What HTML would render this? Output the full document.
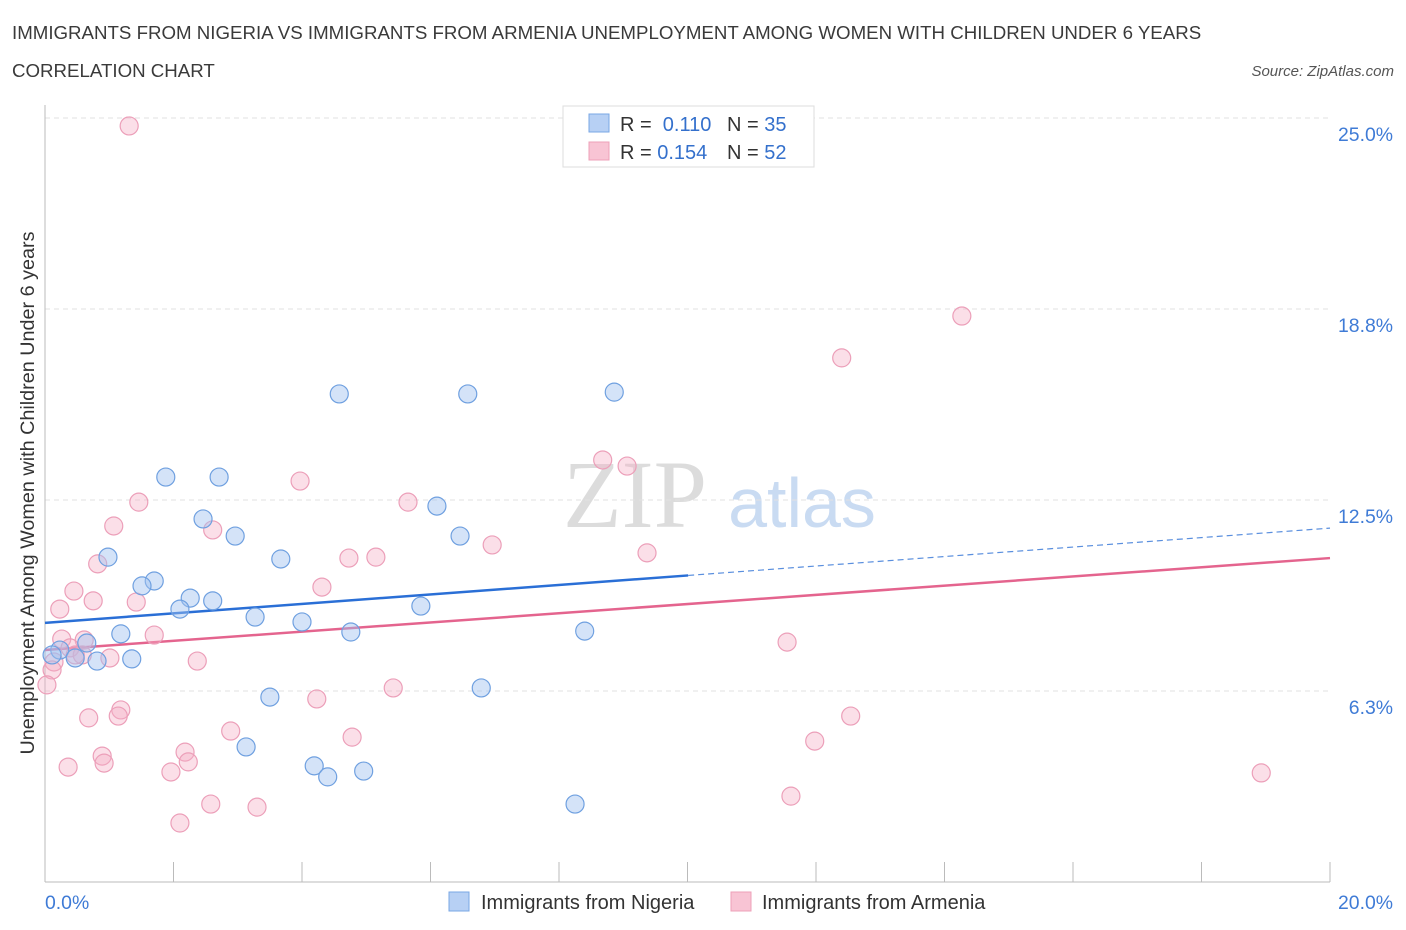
<!DOCTYPE html>
<html><head><meta charset="utf-8"><style>
body{margin:0;background:#fff;font-family:"Liberation Sans",sans-serif}
#c{position:absolute;left:0;top:0}
</style></head><body>
<svg id="c" width="1406" height="930" xmlns="http://www.w3.org/2000/svg">
<text x="12" y="39" font-size="18.7" fill="#3a3a3a">IMMIGRANTS FROM NIGERIA VS IMMIGRANTS FROM ARMENIA UNEMPLOYMENT AMONG WOMEN WITH CHILDREN UNDER 6 YEARS</text>
<text x="12" y="77" font-size="18.7" fill="#3a3a3a">CORRELATION CHART</text>
<text x="1394" y="76" font-size="15" fill="#555" font-style="italic" text-anchor="end">Source: ZipAtlas.com</text>
<text x="635" y="527" font-size="96" fill="#dcdcdc" text-anchor="middle" font-family="Liberation Serif,serif">ZIP</text>
<text x="802" y="527" font-size="70" fill="#c9dbf2" text-anchor="middle">atlas</text>
<g id="grid"></g>
<g id="axes"></g>
<g id="lines"></g>
<g id="pts"></g>
<text transform="translate(34,493) rotate(-90)" font-size="19.8" fill="#333" text-anchor="middle">Unemployment Among Women with Children Under 6 years</text>
<g>
<rect x="563" y="106" width="251" height="61" fill="#fff" stroke="#ddd"/>
<rect x="589" y="114" width="20" height="18" fill="#b7d0f4" stroke="#7aa7e4"/>
<rect x="589" y="142" width="20" height="18" fill="#f8c4d4" stroke="#eea0b8"/>
<text x="620" y="131" font-size="20" fill="#333">R = <tspan fill="#3470cc">&#160;0.110</tspan><tspan x="727">N = </tspan><tspan fill="#3470cc">35</tspan></text>
<text x="620" y="159" font-size="20" fill="#333">R = <tspan fill="#3470cc">0.154</tspan><tspan x="727">N = </tspan><tspan fill="#3470cc">52</tspan></text>
</g>
<g>
<rect x="449" y="892" width="20" height="19" fill="#b7d0f4" stroke="#7aa7e4"/>
<text x="481" y="909" font-size="20" fill="#333">Immigrants from Nigeria</text>
<rect x="731" y="892" width="20" height="19" fill="#f8c4d4" stroke="#eea0b8"/>
<text x="762" y="909" font-size="20" fill="#333">Immigrants from Armenia</text>
</g>
</svg>
<script>
const yTicks=[6.25,12.5,18.75,25];
const yTickLabels=["6.3%","12.5%","18.8%","25.0%"];
const xTickLabels=["0.0%","20.0%"];
const nigX=[4.58,6.58,8.86,1.88,2.71,6.10,2.46,2.96,6.46,0.98,3.67,1.70,1.51,2.26,2.61,2.10,5.85,3.27,4.00,4.76,8.40,1.18,0.65,0.23,0.11,0.47,1.35,0.81,3.50,6.79,3.13,4.19,4.40,4.96,8.25];
const nigY=[15.97,15.97,16.03,13.25,13.25,12.30,11.88,11.32,11.32,10.63,10.57,9.85,9.69,9.29,9.20,8.93,9.03,8.67,8.51,8.18,8.21,8.12,7.82,7.59,7.43,7.33,7.30,7.23,6.05,6.35,4.42,3.80,3.44,3.63,2.55];
const armX=[1.31,14.27,12.40,8.68,9.06,3.97,1.46,5.65,1.07,2.61,6.96,4.73,5.15,9.37,0.82,4.31,0.45,0.75,1.42,0.23,1.70,11.55,0.26,0.61,0.39,1.01,2.37,0.14,0.11,0.03,5.42,4.23,0.68,1.18,1.14,12.54,2.89,4.78,11.98,0.89,2.18,0.92,0.36,2.23,1.96,18.93,11.61,2.58,3.30,2.10,0.58,0.47];
const armY=[24.74,18.52,17.15,13.81,13.61,13.12,12.43,12.43,11.65,11.52,11.03,10.60,10.63,10.77,10.41,9.65,9.52,9.20,9.16,8.93,8.08,7.85,7.95,7.92,7.66,7.33,7.23,7.20,6.94,6.45,6.35,5.99,5.37,5.63,5.43,5.43,4.94,4.74,4.61,4.12,4.25,3.89,3.76,3.93,3.60,3.57,2.81,2.55,2.45,1.93,7.43,7.43];
const nigTrend=[8.48,11.58];
const armTrend=[7.59,10.60];
const nigSolidEnd=10.01;
const NS="http://www.w3.org/2000/svg";
const X=v=>45+v/20*1285, Y=v=>882-v/25*764;
function mk(t,a,p){const e=document.createElementNS(NS,t);for(const k in a)e.setAttribute(k,a[k]);document.getElementById(p).appendChild(e);return e;}
yTicks.forEach((t,i)=>{
 const g=mk('line',{x1:45,x2:1330,y1:Y(t),y2:Y(t),stroke:'#e2e2e2','stroke-dasharray':'5,4'},'grid');
 
 
 const l=mk('text',{x:1393,y:Y(t)+23,'font-size':19.4,fill:'#3f7bd6','text-anchor':'end'},'axes');l.textContent=yTickLabels[i];
 
 
});
mk('line',{x1:45,x2:45,y1:105,y2:882,stroke:'#bbb'},'axes');
mk('line',{x1:45,x2:1330,y1:882,y2:882,stroke:'#bbb'},'axes');
for(let i=0;i<=10;i++){const t=mk('line',{x1:X(i*2),x2:X(i*2),y1:862,y2:882,stroke:'#bbb'},'axes');
 
 }
const xl0=mk('text',{x:45,y:909,'font-size':19.4,fill:'#3f7bd6'},'axes');xl0.textContent=xTickLabels[0];


const xl1=mk('text',{x:1393,y:909,'font-size':19.4,fill:'#3f7bd6','text-anchor':'end'},'axes');xl1.textContent=xTickLabels[1];


armX.forEach((x,i)=>{const c=mk('circle',{cx:X(x),cy:Y(armY[i]),r:9,fill:'rgba(246,176,198,0.4)',stroke:'#ec9fb9','stroke-width':1.2},'pts');
 
 });
nigX.forEach((x,i)=>{const c=mk('circle',{cx:X(x),cy:Y(nigY[i]),r:9,fill:'rgba(160,194,240,0.45)',stroke:'#6fa0e0','stroke-width':1.2},'pts');
 
 });
const ty=(tr,x)=>tr[0]+(tr[1]-tr[0])*x/20;
const l1=mk('line',{x1:X(0),y1:Y(nigTrend[0]),x2:X(nigSolidEnd),y2:Y(ty(nigTrend,nigSolidEnd)),stroke:'#2a6fd6','stroke-width':2.5},'lines');


const l2=mk('line',{x1:X(nigSolidEnd),y1:Y(ty(nigTrend,nigSolidEnd)),x2:X(20),y2:Y(nigTrend[1]),stroke:'#5a8fde','stroke-width':1.2,'stroke-dasharray':'6,4'},'lines');


const l3=mk('line',{x1:X(0),y1:Y(armTrend[0]),x2:X(20),y2:Y(armTrend[1]),stroke:'#e4648e','stroke-width':2.5},'lines');


</script>
</body></html>
